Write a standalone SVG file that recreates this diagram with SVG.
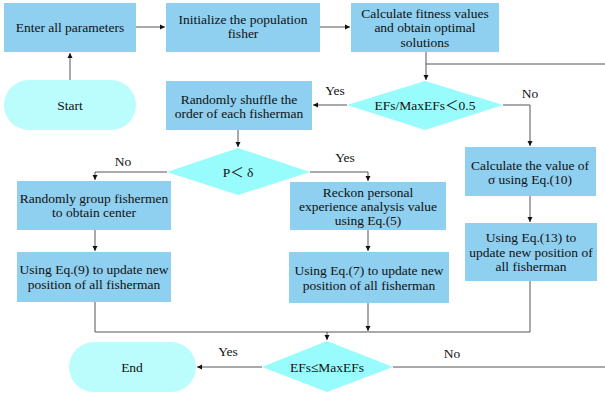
<svg xmlns="http://www.w3.org/2000/svg" width="605" height="398" viewBox="0 0 605 398">
<style>
.box{fill:#8FCFEF;}
.term{fill:#BBFCFC;}
.dia{fill:#99FCFC;}
text{font-family:"Liberation Serif","Noto Sans CJK SC",serif;font-size:13.5px;fill:#111;text-anchor:middle;}
.ln{fill:none;stroke:#555;stroke-width:1;}
</style>
<defs>
<marker id="ah" markerWidth="6" markerHeight="6" refX="5" refY="3" orient="auto" markerUnits="userSpaceOnUse">
<path d="M0,0.5 L5,3 L0,5.5 Z" fill="#111"/>
</marker>
</defs>
<rect width="605" height="398" fill="#fff"/>
<g id="connectors">
<path class="ln" d="M70 80 V53" marker-end="url(#ah)"/>
<path class="ln" d="M136 27 H165" marker-end="url(#ah)"/>
<path class="ln" d="M320 27 H350" marker-end="url(#ah)"/>
<path class="ln" d="M426 52 V80" marker-end="url(#ah)"/>
<path class="ln" d="M426 64 H605"/>
<path class="ln" d="M347 105 H313" marker-end="url(#ah)"/>
<path class="ln" d="M503 105 H530 V146" marker-end="url(#ah)"/>
<path class="ln" d="M238 130 V147" marker-end="url(#ah)"/>
<path class="ln" d="M167 172 H95 V180" marker-end="url(#ah)"/>
<path class="ln" d="M310 172 H368 V181" marker-end="url(#ah)"/>
<path class="ln" d="M95 230 V251" marker-end="url(#ah)"/>
<path class="ln" d="M368 230 V251" marker-end="url(#ah)"/>
<path class="ln" d="M530 196 V222" marker-end="url(#ah)"/>
<path class="ln" d="M95 302 V332 H530 V281"/>
<path class="ln" d="M368 303 V331" marker-end="url(#ah)"/>
<path class="ln" d="M327 332 V340" marker-end="url(#ah)"/>
<path class="ln" d="M262 367 H197" marker-end="url(#ah)"/>
<path class="ln" d="M393 367 H605"/>
<text x="335" y="95">Yes</text>
<text x="530" y="98">No</text>
<text x="123" y="166">No</text>
<text x="345" y="162">Yes</text>
<text x="228" y="356">Yes</text>
<text x="452" y="358">No</text>
</g>
<g id="start"><rect class="term" x="4" y="80" width="132" height="50" rx="25"/><text x="70" y="110">Start</text></g>
<g id="enter"><rect class="box" x="4" y="3" width="132" height="49"/><text x="70" y="32">Enter all parameters</text></g>
<g id="init"><rect class="box" x="166" y="3" width="154" height="49"/><text x="243" y="24">Initialize the population</text><text x="243" y="38">fisher</text></g>
<g id="calc"><rect class="box" x="351" y="3" width="148" height="49"/><text x="425" y="18">Calculate fitness values</text><text x="425" y="32">and obtain optimal</text><text x="425" y="46.5">solutions</text></g>
<g id="cond1"><polygon class="dia" points="347,105 425,81 503,105 425,130"/><text x="425" y="110">EFs/MaxEFs＜0.5</text></g>
<g id="shuffle"><rect class="box" x="166" y="81" width="146" height="49"/><text x="239" y="104">Randomly shuffle the</text><text x="239" y="118">order of each fisherman</text></g>
<g id="cond2"><polygon class="dia" points="167,172 238,148 310,172 238,195"/><text x="238" y="177">P＜ δ</text></g>
<g id="group"><rect class="box" x="17" y="181" width="154" height="49"/><text x="94" y="203">Randomly group fishermen</text><text x="94" y="217">to obtain center</text></g>
<g id="eq9"><rect class="box" x="17" y="252" width="154" height="50"/><text x="94" y="274">Using Eq.(9) to update new</text><text x="94" y="289">position of all fisherman</text></g>
<g id="reckon"><rect class="box" x="290" y="182" width="156" height="48"/><text x="368" y="197">Reckon personal</text><text x="368" y="211">experience analysis value</text><text x="368" y="225">using Eq.(5)</text></g>
<g id="eq7"><rect class="box" x="289" y="252" width="160" height="51"/><text x="369" y="275">Using Eq.(7) to update new</text><text x="369" y="290">position of all fisherman</text></g>
<g id="sigma"><rect class="box" x="465" y="147" width="131" height="49"/><text x="530" y="170">Calculate the value of</text><text x="530" y="184">σ using Eq.(10)</text></g>
<g id="eq13"><rect class="box" x="465" y="223" width="132" height="58"/><text x="531" y="242">Using Eq.(13) to</text><text x="531" y="257">update new position of</text><text x="531" y="271">all fisherman</text></g>
<g id="cond3"><polygon class="dia" points="262,367 327,341 393,367 327,392"/><text x="327" y="372">EFs≤MaxEFs</text></g>
<g id="end"><rect class="term" x="69" y="342" width="127" height="50" rx="25"/><text x="132" y="372">End</text></g>
</svg>
